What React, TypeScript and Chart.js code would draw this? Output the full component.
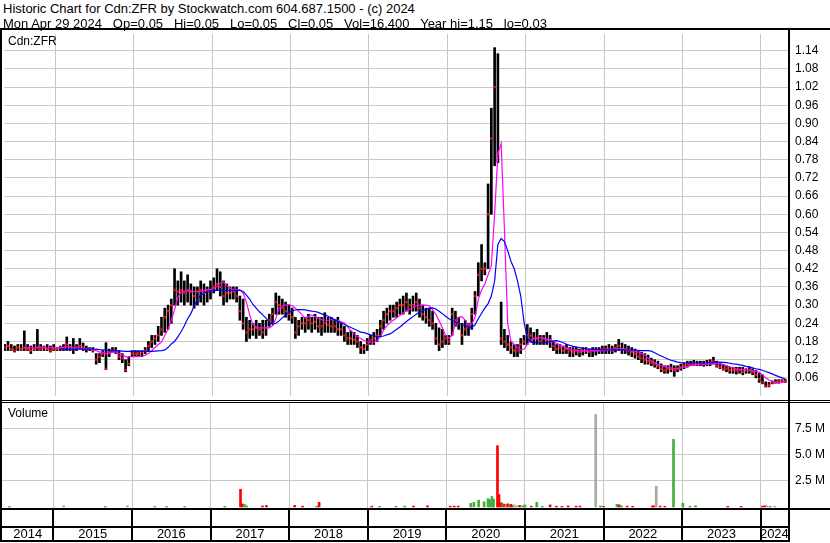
import React, { useEffect, useRef } from "react";
import { Chart, registerables } from "chart.js";
Chart.register(...registerables);

const FONT = 'Arial, "Liberation Sans", sans-serif';

// Time axis: fractional years. Price data are half-month periods starting May 2014.
const FIRST_PERIOD = 2014 + 8 / 24;
const PERIODS_PER_YEAR = 24;
const X_MIN = 2014.345;
const X_MAX = 2024.347;
const YEARS = [2014, 2015, 2016, 2017, 2018, 2019, 2020, 2021, 2022, 2023, 2024];
const YEAR_BOUNDS = [2015, 2016, 2017, 2018, 2019, 2020, 2021, 2022, 2023, 2024];

const PRICE_TICKS = [0.06, 0.12, 0.18, 0.24, 0.3, 0.36, 0.42, 0.48, 0.54, 0.6, 0.66, 0.72, 0.78, 0.84, 0.9, 0.96, 1.02, 1.08, 1.14];
const VOL_TICKS = [2.5, 5, 7.5]; // millions

const HIGH = [
  .17,.18,.17,.165,.17,.17,.215,.17,.165,.17,.22,.17,.165,.17,.165,.17,
  .16,.165,.17,.195,.17,.19,.17,.19,.175,.165,.16,.16,.14,.14,.15,.176,.155,.16,.16,.15,.14,.12,.13,.15,
  .15,.15,.15,.16,.18,.2,.2,.23,.26,.29,.30,.32,.42,.38,.41,.38,.40,.37,.36,.36,.38,.37,.36,.38,
  .39,.42,.41,.38,.37,.36,.36,.36,.33,.32,.26,.25,.24,.25,.24,.25,.25,.27,.29,.34,.33,.32,.31,.30,
  .29,.26,.25,.26,.26,.27,.26,.27,.26,.26,.275,.26,.26,.25,.26,.24,.23,.21,.215,.21,.2,.18,.17,.19,
  .2,.21,.22,.25,.28,.29,.30,.30,.31,.32,.33,.34,.32,.33,.34,.32,.30,.29,.29,.28,.24,.225,.22,.2,
  .2,.29,.28,.26,.24,.25,.24,.29,.345,.44,.50,.44,.70,.95,1.15,1.13,.31,.22,.2,.18,.17,.17,.19,.2,
  .236,.225,.21,.22,.2,.2,.21,.2,.18,.17,.17,.165,.17,.16,.16,.16,.155,.16,.16,.155,.16,.16,.16,.165,
  .165,.17,.165,.17,.187,.175,.17,.165,.16,.155,.15,.145,.14,.135,.125,.12,.115,.106,.1,.1,.105,.1,.1,.105,
  .11,.115,.115,.118,.115,.115,.115,.118,.12,.128,.115,.11,.105,.1,.095,.095,.095,.095,.095,.09,.095,.09,.085,.075,
  .07,.047,.045,.05,.054,.054,.054,.055,
];
const LOW = [
  .15,.15,.15,.145,.15,.15,.15,.15,.14,.15,.15,.15,.15,.15,.145,.15,
  .15,.15,.15,.15,.15,.14,.15,.155,.15,.145,.15,.145,.105,.11,.13,.087,.13,.145,.14,.12,.11,.08,.1,.13,
  .13,.13,.13,.14,.15,.16,.17,.18,.2,.21,.22,.24,.30,.30,.31,.30,.31,.30,.29,.30,.31,.30,.31,.32,
  .34,.35,.33,.30,.31,.32,.32,.31,.25,.22,.18,.19,.20,.19,.20,.19,.20,.23,.24,.27,.27,.27,.26,.25,
  .24,.19,.20,.22,.21,.22,.21,.22,.21,.20,.21,.21,.21,.21,.20,.20,.18,.17,.17,.17,.16,.14,.14,.15,
  .17,.17,.18,.2,.22,.24,.25,.26,.26,.27,.27,.28,.27,.28,.28,.26,.25,.24,.23,.22,.17,.15,.16,.17,
  .17,.2,.23,.22,.17,.2,.2,.22,.27,.33,.38,.40,.42,.60,.76,.77,.17,.16,.15,.14,.13,.13,.14,.17,
  .17,.18,.17,.17,.17,.17,.17,.16,.15,.14,.14,.14,.14,.13,.13,.135,.13,.135,.14,.13,.13,.135,.14,.14,
  .14,.14,.14,.145,.15,.14,.14,.135,.13,.125,.12,.11,.105,.105,.1,.095,.09,.08,.075,.075,.08,.065,.08,.085,
  .09,.095,.1,.1,.1,.1,.098,.1,.1,.105,.095,.09,.085,.08,.075,.075,.072,.075,.07,.075,.075,.07,.06,.045,
  .04,.03,.03,.04,.042,.042,.045,.045,
];
const CLOSE = [
  .16,.165,.155,.15,.16,.155,.16,.155,.15,.155,.16,.155,.16,.155,.15,.155,
  .155,.16,.16,.17,.16,.155,.16,.165,.16,.155,.155,.15,.12,.13,.14,.09,.145,.15,.15,.13,.125,.086,.106,.14,
  .14,.14,.145,.15,.165,.18,.19,.2,.22,.26,.28,.3,.35,.345,.35,.34,.35,.345,.33,.345,.35,.34,.35,.35,
  .36,.37,.36,.33,.34,.34,.345,.33,.28,.24,.21,.22,.22,.225,.22,.21,.225,.25,.27,.31,.30,.29,.28,.27,
  .26,.21,.23,.24,.24,.25,.24,.245,.23,.23,.24,.235,.23,.23,.22,.22,.2,.19,.19,.185,.18,.16,.155,.17,
  .185,.19,.2,.23,.25,.27,.28,.28,.29,.30,.30,.31,.30,.30,.31,.29,.27,.26,.25,.24,.19,.17,.18,.19,
  .18,.27,.25,.24,.2,.22,.23,.27,.33,.40,.42,.42,.60,.85,1.02,.80,.19,.18,.17,.16,.15,.15,.17,.18,
  .2,.2,.19,.19,.18,.19,.185,.18,.165,.155,.16,.15,.155,.15,.145,.15,.145,.15,.15,.145,.15,.15,.15,.155,
  .155,.155,.15,.16,.165,.155,.155,.15,.145,.14,.13,.125,.12,.115,.11,.105,.1,.09,.085,.09,.09,.085,.09,.095,
  .1,.105,.105,.105,.105,.105,.105,.107,.11,.115,.1,.095,.09,.09,.085,.085,.085,.085,.08,.085,.085,.08,.07,.055,
  .045,.032,.035,.045,.047,.048,.05,.05,
];
const MA_SHORT = [
  null,null,null,null,null,null,.158,.16,.16,.158,.16,.162,.16,.158,.16,.16,
  .158,.16,.16,.162,.162,.16,.158,.158,.156,.155,.155,.153,.15,.145,.145,.14,.14,.145,.145,.14,.135,.13,.128,.13,
  .13,.13,.132,.135,.14,.15,.16,.17,.178,.2,.22,.25,.285,.325,.343,.346,.346,.346,.345,.345,.345,.348,.35,.35,
  .355,.362,.372,.376,.365,.355,.352,.35,.35,.34,.31,.268,.235,.228,.225,.225,.225,.225,.232,.255,.29,.298,.30,.302,
  .298,.29,.28,.268,.257,.262,.268,.262,.256,.252,.25,.25,.252,.252,.25,.245,.241,.228,.215,.205,.196,.19,.183,.179,
  .177,.178,.184,.195,.218,.232,.243,.25,.258,.266,.274,.282,.287,.292,.298,.30,.30,.30,.298,.284,.27,.248,.225,.20,
  .19,.20,.24,.26,.262,.25,.235,.238,.26,.32,.35,.37,.40,.43,.60,.80,.834,.55,.24,.18,.17,.16,.152,.155,
  .17,.185,.19,.192,.192,.19,.188,.186,.178,.174,.168,.162,.158,.155,.152,.15,.15,.148,.148,.15,.15,.15,.15,.15,
  .15,.152,.154,.155,.156,.155,.153,.152,.15,.148,.145,.14,.135,.125,.115,.11,.105,.10,.097,.095,.093,.091,.09,.092,
  .095,.098,.10,.102,.104,.105,.105,.105,.106,.107,.108,.106,.103,.099,.096,.093,.09,.088,.087,.086,.085,.084,.082,.078,
  .07,.06,.053,.048,.045,.044,.045,.047,
];
const MA_LONG = [
  null,null,null,null,null,null,null,null,null,null,null,null,null,null,null,null,
  null,.155,.155,.155,.155,.155,.155,.155,.155,.155,.155,.155,.155,.153,.152,.151,.15,.15,.15,.149,.148,.147,.147,.147,
  .147,.147,.147,.147,.147,.147,.148,.149,.15,.152,.16,.172,.18,.195,.212,.232,.255,.272,.297,.318,.333,.34,.345,.347,
  .348,.349,.349,.349,.349,.349,.349,.349,.349,.345,.333,.32,.302,.29,.278,.268,.257,.243,.236,.24,.248,.258,.268,.276,
  .281,.284,.285,.285,.284,.282,.28,.279,.276,.271,.268,.263,.257,.252,.247,.242,.236,.231,.226,.221,.216,.211,.209,.206,
  .202,.199,.196,.196,.198,.202,.205,.212,.22,.228,.237,.246,.254,.262,.27,.277,.282,.286,.29,.291,.287,.28,.272,.263,
  .255,.249,.244,.24,.236,.232,.228,.226,.235,.255,.273,.29,.305,.33,.38,.50,.52,.51,.48,.445,.42,.38,.33,.245,
  .19,.178,.176,.176,.175,.176,.178,.18,.182,.183,.18,.176,.171,.167,.164,.162,.16,.158,.156,.155,.154,.154,.153,.153,
  .152,.152,.152,.152,.152,.152,.152,.152,.151,.151,.151,.15,.15,.15,.148,.143,.137,.132,.127,.122,.118,.115,.112,.11,
  .109,.109,.109,.109,.109,.109,.109,.109,.11,.111,.112,.112,.111,.11,.108,.106,.105,.103,.101,.098,.096,.093,.09,.088,
  .085,.081,.077,.073,.068,.064,.06,.056,
];

// Volume (millions) on notable days; direction r = down, g = up, n = unchanged
const VOL_DATES = [
  2014.44, 2015.13, 2015.66, 2015.94, 2016.29, 2016.44, 2016.67, 2017.18, 2017.38, 2017.40, 2017.43, 2017.46,
  2017.66, 2017.71, 2018.07, 2018.17, 2018.35, 2018.38, 2019.05, 2019.15, 2019.36, 2019.47, 2019.58, 2019.76,
  2020.05, 2020.10, 2020.15, 2020.31, 2020.35, 2020.41, 2020.48, 2020.53, 2020.55, 2020.58, 2020.60, 2020.65,
  2020.67, 2020.70, 2020.72, 2020.74, 2020.76, 2020.78, 2020.80, 2020.82, 2020.84, 2020.86, 2020.89, 2020.93,
  2020.97, 2021.00, 2021.08, 2021.15, 2021.22, 2021.32, 2021.40, 2021.47, 2021.55, 2021.65, 2021.70, 2021.90,
  2021.96, 2022.00, 2022.17, 2022.20, 2022.23, 2022.30, 2022.37, 2022.62, 2022.64, 2022.67, 2022.72, 2022.78,
  2022.89, 2023.01, 2023.10, 2023.17, 2023.58, 2023.75, 2024.02, 2024.05, 2024.08, 2024.12, 2024.18,
];
const VOL_VALUES = [
  0.05, 0.12, 0.05, 0.12, 0.05, 0.05, 0.05, 0.06, 1.7, 0.3, 0.25, 0.1,
  0.1, 0.15, 0.15, 0.08, 0.08, 0.45, 0.08, 0.06, 0.06, 0.08, 0.08, 0.12,
  0.08, 0.08, 0.08, 0.35, 0.45, 0.65, 0.5, 0.8, 0.7, 1.0, 0.75, 5.9,
  1.2, 0.4, 0.3, 0.25, 0.2, 0.3, 0.15, 0.25, 0.15, 0.2, 0.1, 0.15,
  0.12, 0.2, 0.08, 0.45, 0.06, 0.2, 0.08, 0.06, 0.1, 0.08, 0.08, 8.9,
  0.1, 0.06, 0.25, 0.2, 0.1, 0.08, 0.06, 0.1, 0.1, 2.0, 0.08, 0.06,
  6.5, 0.35, 0.08, 0.12, 0.06, 0.06, 0.08, 0.12, 0.1, 0.06, 0.08,
];
const VOL_DIR = [
  "g", "n", "g", "n", "g", "g", "g", "g", "r", "r", "g", "g",
  "r", "r", "r", "r", "g", "r", "r", "g", "g", "g", "r", "r",
  "r", "r", "r", "g", "g", "g", "g", "g", "g", "g", "g", "r",
  "r", "r", "g", "r", "n", "r", "g", "r", "r", "n", "n", "r",
  "g", "g", "r", "g", "g", "r", "r", "r", "r", "r", "r", "n",
  "g", "r", "g", "r", "g", "r", "r", "r", "r", "n", "r", "r",
  "g", "g", "g", "g", "r", "r", "r", "r", "n", "g", "n",
];
const DIR_COLORS: Record<string, string> = { r: "#ff0000", g: "#3fae3f", n: "#a8a8a8" };

const GRID = "#c8c8c8";
const periodTime = (i: number) => FIRST_PERIOD + (i + 0.5) / PERIODS_PER_YEAR;

const noPad = (ax: any) => {
  ax.paddingTop = 0;
  ax.paddingBottom = 0;
  ax.paddingLeft = 0;
  ax.paddingRight = 0;
};

const yearGridAxis = {
  type: "linear" as const,
  min: X_MIN,
  max: X_MAX,
  offset: false,
  grid: { color: GRID, drawTicks: false, offset: false },
  border: { display: false },
  ticks: { display: false },
  afterBuildTicks: (ax: any) => { ax.ticks = YEAR_BOUNDS.map((v) => ({ value: v })); },
  afterFit: (ax: any) => { ax.height = 0; noPad(ax); },
};

const yearStrip = {
  id: "yearStrip",
  afterDraw(chart: any) {
    const { ctx, chartArea, scales } = chart;
    const top = chartArea.bottom;
    ctx.save();
    ctx.fillStyle = "#000";
    ctx.fillRect(0, top, chart.width, 2);
    ctx.fillRect(0, top + 18, chartArea.right + 2, 2);
    ctx.fillRect(0, top + 32, chartArea.right + 2, 2);
    YEAR_BOUNDS.forEach((y) => {
      const px = Math.round(scales.x.getPixelForValue(y));
      ctx.fillRect(px - 1, top, 2, 34);
    });
    ctx.restore();
  },
};

export default function App() {
  const priceRef = useRef<HTMLCanvasElement>(null);
  const volRef = useRef<HTMLCanvasElement>(null);

  useEffect(() => {
    const tickFont = { family: FONT, size: 12 };
    const price = new Chart(priceRef.current as HTMLCanvasElement, {
      type: "bar",
      data: {
        datasets: [
          {
            type: "line",
            label: "MA long",
            data: MA_LONG.map((v, i) => ({ x: periodTime(i), y: v })),
            borderColor: "#0000ff",
            borderWidth: 1.2,
            pointRadius: 0,
            spanGaps: false,
            order: 1,
          } as any,
          {
            type: "line",
            label: "MA short",
            data: MA_SHORT.map((v, i) => ({ x: periodTime(i), y: v })),
            borderColor: "#ff00ff",
            borderWidth: 1.2,
            pointRadius: 0,
            spanGaps: false,
            order: 2,
          },
          {
            type: "line",
            label: "Close",
            data: CLOSE.map((v, i) => ({ x: periodTime(i), y: v })),
            showLine: false,
            pointStyle: "rect",
            pointRadius: 1.6,
            pointBorderWidth: 0,
            pointBackgroundColor: "#ff0000",
            order: 3,
          },
          {
            type: "bar",
            label: "Range",
            data: HIGH.map((h, i) => ({ x: periodTime(i), y: [LOW[i], h] })),
            backgroundColor: "#000000",
            barThickness: 2,
            grouped: false,
            order: 4,
          },
        ] as any,
      },
      options: {
        animation: false,
        responsive: false,
        maintainAspectRatio: false,
        layout: { padding: { left: 2, right: 0, top: 0, bottom: 0 } },
        plugins: { legend: { display: false }, tooltip: { enabled: false } },
        scales: {
          x: yearGridAxis as any,
          y: {
            position: "right",
            min: 0,
            max: 1.195,
            grid: { color: GRID, drawTicks: false },
            border: { display: false },
            ticks: {
              padding: 7,
              color: "#000",
              font: tickFont,
              autoSkip: false,
              callback: (v: any) => Number(v).toFixed(2),
            },
            afterBuildTicks: (ax: any) => { ax.ticks = PRICE_TICKS.map((v) => ({ value: v })); },
            afterFit: (ax: any) => { ax.width = 42; noPad(ax); },
          },
        },
      },
    });

    const vol = new Chart(volRef.current as HTMLCanvasElement, {
      type: "bar",
      data: {
        datasets: [
          {
            label: "Volume",
            data: VOL_DATES.map((d, i) => ({ x: d, y: VOL_VALUES[i] })),
            backgroundColor: VOL_DIR.map((c) => DIR_COLORS[c]),
            barThickness: 2,
            grouped: false,
          },
        ],
      },
      options: {
        animation: false,
        responsive: false,
        maintainAspectRatio: false,
        layout: { padding: { left: 2, right: 0, top: 0, bottom: 0 } },
        plugins: { legend: { display: false }, tooltip: { enabled: false } },
        scales: {
          x: yearGridAxis as any,
          yr: {
            type: "linear",
            position: "bottom",
            min: X_MIN,
            max: X_MAX,
            offset: false,
            grid: { display: false, drawTicks: false },
            border: { display: false },
            ticks: {
              autoSkip: false,
              maxRotation: 0,
              padding: 19,
              color: "#000",
              font: { family: FONT, size: 13 },
              callback: (v: any) => String(Math.floor(Number(v))),
            },
            afterBuildTicks: (ax: any) => {
              ax.ticks = YEARS.map((y) => ({ value: (Math.max(y, X_MIN) + Math.min(y + 1, X_MAX)) / 2 }));
            },
            afterFit: (ax: any) => { ax.height = 35; noPad(ax); },
          } as any,
          y: {
            position: "right",
            min: -0.1,
            max: 10.0,
            grid: { color: GRID, drawTicks: false },
            border: { display: false },
            ticks: {
              padding: 7,
              color: "#000",
              font: tickFont,
              autoSkip: false,
              callback: (v: any) => Number(v).toFixed(1) + " M",
            },
            afterBuildTicks: (ax: any) => { ax.ticks = VOL_TICKS.map((v) => ({ value: v })); },
            afterFit: (ax: any) => { ax.width = 42; noPad(ax); },
          },
        },
      },
      plugins: [yearStrip],
    });

    return () => {
      price.destroy();
      vol.destroy();
    };
  }, []);

  const black = "#000";
  const line = (left: number, top: number, width: number, height: number) => (
    <div style={{ position: "absolute", left, top, width, height, background: black }} />
  );

  return (
    <div
      style={{
        position: "absolute",
        left: 0,
        top: 0,
        width: 830,
        height: 543,
        background: "#fff",
        overflow: "hidden",
        fontFamily: FONT,
        color: "#000",
      }}
    >
      <canvas ref={priceRef} width={830} height={370} style={{ position: "absolute", left: 0, top: 30, width: 830, height: 370 }} />
      <canvas ref={volRef} width={830} height={140} style={{ position: "absolute", left: 0, top: 403, width: 830, height: 140 }} />
      {line(0, 28, 830, 2)}
      {line(0, 400, 830, 1)}
      {line(0, 402, 830, 1)}
      {line(0, 28, 2, 514)}
      {line(788, 28, 2, 514)}
      <div style={{ position: "absolute", left: 3, top: 1, fontSize: 13, lineHeight: "15px", whiteSpace: "pre" }}>
        Historic Chart for Cdn:ZFR by Stockwatch.com 604.687.1500 - (c) 2024
      </div>
      <div style={{ position: "absolute", left: 3, top: 16, fontSize: 13, lineHeight: "15px", whiteSpace: "pre" }}>
        {"Mon Apr 29 2024   Op=0.05   Hi=0.05   Lo=0.05   Cl=0.05   Vol=16,400   Year hi=1.15   lo=0.03"}
      </div>
      <div style={{ position: "absolute", left: 8, top: 34, fontSize: 12, lineHeight: "14px", whiteSpace: "pre" }}>Cdn:ZFR</div>
      <div style={{ position: "absolute", left: 8, top: 406, fontSize: 12, lineHeight: "14px", whiteSpace: "pre" }}>Volume</div>
    </div>
  );
}
